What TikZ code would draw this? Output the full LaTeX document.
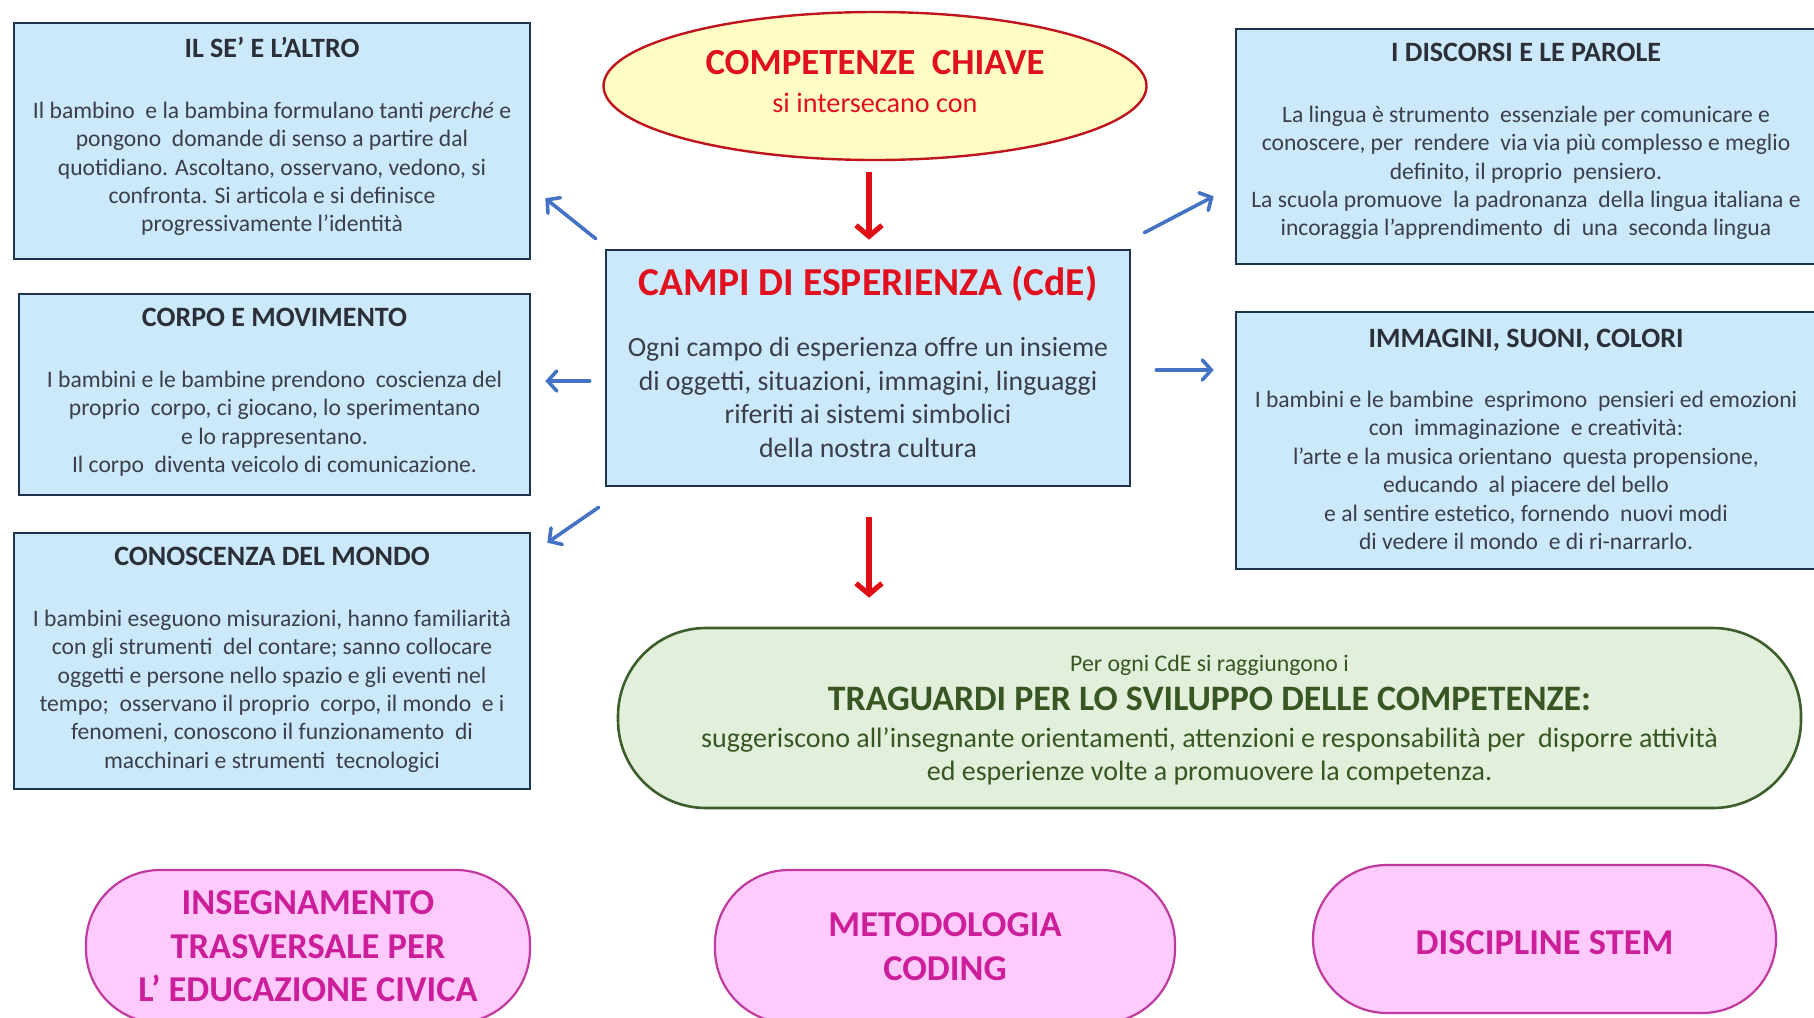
\documentclass[tikz,border=0pt]{standalone}
\usepackage{fontspec}
\setmainfont{Carlito}
\usetikzlibrary{arrows.meta,positioning,calc,shapes.geometric}
\definecolor{boxFill}{HTML}{CCE8FB}
\definecolor{boxLine}{HTML}{1F3350}
\definecolor{boxText}{HTML}{3A3F4A}
\definecolor{boxTitle}{HTML}{2A2F38}
\definecolor{keyFill}{HTML}{FFFDC4}
\definecolor{keyLine}{HTML}{C0141E}
\definecolor{keyRed}{HTML}{E0101E}
\definecolor{goalFill}{HTML}{E2EFDA}
\definecolor{goalLine}{HTML}{3D5E2C}
\definecolor{goalText}{HTML}{375623}
\definecolor{pinkFill}{HTML}{FFCBFF}
\definecolor{pinkLine}{HTML}{C03A9E}
\definecolor{pinkText}{HTML}{CC1E99}
\definecolor{arrBlue}{HTML}{4472C4}
\definecolor{arrRed}{HTML}{E00F16}
\newcommand{\campotit}[1]{{\bfseries\color{boxTitle}\fontsize{14}{14}\selectfont #1}\\[16pt]}
\tikzset{
	campo/.style={draw=boxLine, line width=1.3pt, fill=boxFill, inner sep=0pt},
	testo/.style={text=boxText, align=center, inner sep=0pt, font=\fontsize{11.8}{14.2}\selectfont},
	bluearr/.style={draw=arrBlue, line width=1.8pt, line cap=round,
		-{Straight Barb[length=4.5pt,width=10pt,line cap=round]}},
	redarr/.style={draw=arrRed, line width=2.6pt,
		-{Straight Barb[length=5.5pt,width=13pt]}},
	pill/.style={draw=pinkLine, line width=1.1pt, fill=pinkFill, text=pinkText, align=center,
		rounded corners=37pt, inner sep=0pt, font=\bfseries\fontsize{18.2}{21.7}\selectfont}
}
\begin{document}
\begin{tikzpicture}[x=0.5pt, y=-0.5pt]
\clip (0,0) rectangle (1814,1017);
\fill[white] (0,0) rectangle (1814,1017);
\node[ellipse, draw=keyLine, line width=1.2pt, fill=keyFill, inner sep=0pt,
	minimum width=271.5pt, minimum height=74pt] (chiave) at (875,86) {};
\node[text=keyRed, align=center, inner sep=0pt, font=\fontsize{14.1}{18.8}\selectfont]
	(chiave_t) at ($(chiave.center)+(0,-4.6)$) {%
	{\bfseries\fontsize{18.4}{18.8}\selectfont COMPETENZE\ \ CHIAVE}\\
	si intersecano con};
% campi di esperienza
\node[campo, minimum width=262pt, minimum height=118pt] (campi) at (868,368) {};
\node[testo, font=\fontsize{13.9}{16.8}\selectfont, below=8.7pt of campi.north] (campi_t) {%
	{\bfseries\color{keyRed}\fontsize{19.8}{19.8}\selectfont CAMPI DI ESPERIENZA (CdE)}\\[13.5pt]
	Ogni campo di esperienza offre un insieme\\
	di oggetti, situazioni, immagini, linguaggi\\
	riferiti ai sistemi simbolici\\
	della nostra cultura};
\node[campo, minimum width=258pt, minimum height=118pt] (ilse) at (272,141) {};
\node[testo, below=7.7pt of ilse.north] (ilse_t) {%
	\campotit{IL SE' E L'ALTRO}
	Il bambino\ \ e la bambina formulano tanti \emph{perché} e\\
	pongono\ \ domande di senso a partire dal\\
	quotidiano. Ascoltano, osservano, vedono, si\\
	confronta. Si articola e si definisce\\
	progressivamente l'identità};
\node[campo, minimum width=255.5pt, minimum height=100.5pt] (corpo) at (274.5,394.5) {};
\node[testo, below=7.7pt of corpo.north] (corpo_t) {%
	\campotit{CORPO E MOVIMENTO}
	I bambini e le bambine prendono\ \ coscienza del\\
	proprio\ \ corpo, ci giocano, lo sperimentano\\
	e lo rappresentano.\\
	Il corpo\ \ diventa veicolo di comunicazione.};
\node[campo, minimum width=258pt, minimum height=128pt] (mondo) at (272,661) {};
\node[testo, below=7.7pt of mondo.north] (mondo_t) {%
	\campotit{CONOSCENZA DEL MONDO}
	I bambini eseguono misurazioni, hanno familiarità\\
	con gli strumenti\ \ del contare; sanno collocare\\
	oggetti e persone nello spazio e gli eventi nel\\
	tempo;\ \ osservano il proprio\ \ corpo, il mondo\ \ e i\\
	fenomeni, conoscono il funzionamento\ \ di\\
	macchinari e strumenti\ \ tecnologici};
\node[campo, minimum width=290pt, minimum height=117.5pt] (parole) at (1526,146.5) {};
\node[testo, below=7.7pt of parole.north] (parole_t) {%
	\campotit{I DISCORSI E LE PAROLE}
	La lingua è strumento\ \ essenziale per comunicare e\\
	conoscere, per\ \ rendere\ \ via via più complesso e meglio\\
	definito, il proprio\ \ pensiero.\\
	La scuola promuove\ \ la padronanza\ \ della lingua italiana e\\
	incoraggia l'apprendimento\ \ di\ \ una\ \ seconda lingua};
\node[campo, minimum width=290pt, minimum height=128.5pt] (immagini) at (1526,440.5) {};
\node[testo, below=8.8pt of immagini.north] (immagini_t) {%
	\campotit{IMMAGINI, SUONI, COLORI}
	I bambini e le bambine\ \ esprimono\ \ pensieri ed emozioni\\
	con\ \ immaginazione\ \ e creatività:\\
	l'arte e la musica orientano\ \ questa propensione,\\
	educando\ \ al piacere del bello\\
	e al sentire estetico, fornendo\ \ nuovi modi\\
	di vedere il mondo\ \ e di ri-narrarlo.};
% traguardi e riquadri in basso
\node[draw=goalLine, line width=1.3pt, fill=goalFill, inner sep=0pt,
	rounded corners=44pt, minimum width=591.5pt, minimum height=90pt] (traguardi) at (1209.5,718) {};
\node[text=goalText, align=center, inner sep=0pt, font=\fontsize{14}{16.8}\selectfont]
	(traguardi_t) at ($(traguardi.center)+(0,2.3)$) {%
	{\fontsize{11.9}{16.8}\selectfont Per ogni CdE si raggiungono i}\\[2.4pt]
	{\bfseries\fontsize{17.9}{16.8}\selectfont TRAGUARDI PER LO SVILUPPO DELLE COMPETENZE:}\\[1.7pt]
	suggeriscono all'insegnante orientamenti, attenzioni e responsabilità per\ \ disporre attività\\
	ed esperienze volte a promuovere la competenza.};
\node[pill, minimum width=222pt, minimum height=76.5pt] (civica) at (308,946.5) {INSEGNAMENTO\\TRASVERSALE PER\\L' EDUCAZIONE CIVICA};
\node[pill, minimum width=230pt, minimum height=76.5pt] (coding) at (945,946.5) {METODOLOGIA\\CODING};
\node[pill, minimum width=231.5pt, minimum height=74pt, text height=15.2pt, text depth=0pt] (stem) at (1544.5,939) {DISCIPLINE STEM};
% frecce
\draw[redarr] ($(chiave.south)+(-6,11)$) -- ($(campi.north)+(1,-9)$);
\draw[redarr] ($(campi.south)+(1,30)$) -- ($(campi.south |- traguardi.north)+(1,-29)$);
\draw[bluearr] ($(campi.north west)+(-9,-10)$) -- ($(ilse.south east)+(14,-62)$);
\draw[bluearr] ($(campi.west)+(-15,13)$) -- ($(corpo.east)+(14,-13.5)$);
\draw[bluearr] ($(campi.south west)+(-6,20)$) -- ($(mondo.north east)+(16,11)$);
\draw[bluearr] ($(campi.north east)+(13,-16)$) -- ($(parole.south west)+(-21,-69)$);
\draw[bluearr] ($(campi.east)+(25,2)$) -- ($(campi.east -| immagini.west)+(-21,2)$);
\end{tikzpicture}
\end{document}
